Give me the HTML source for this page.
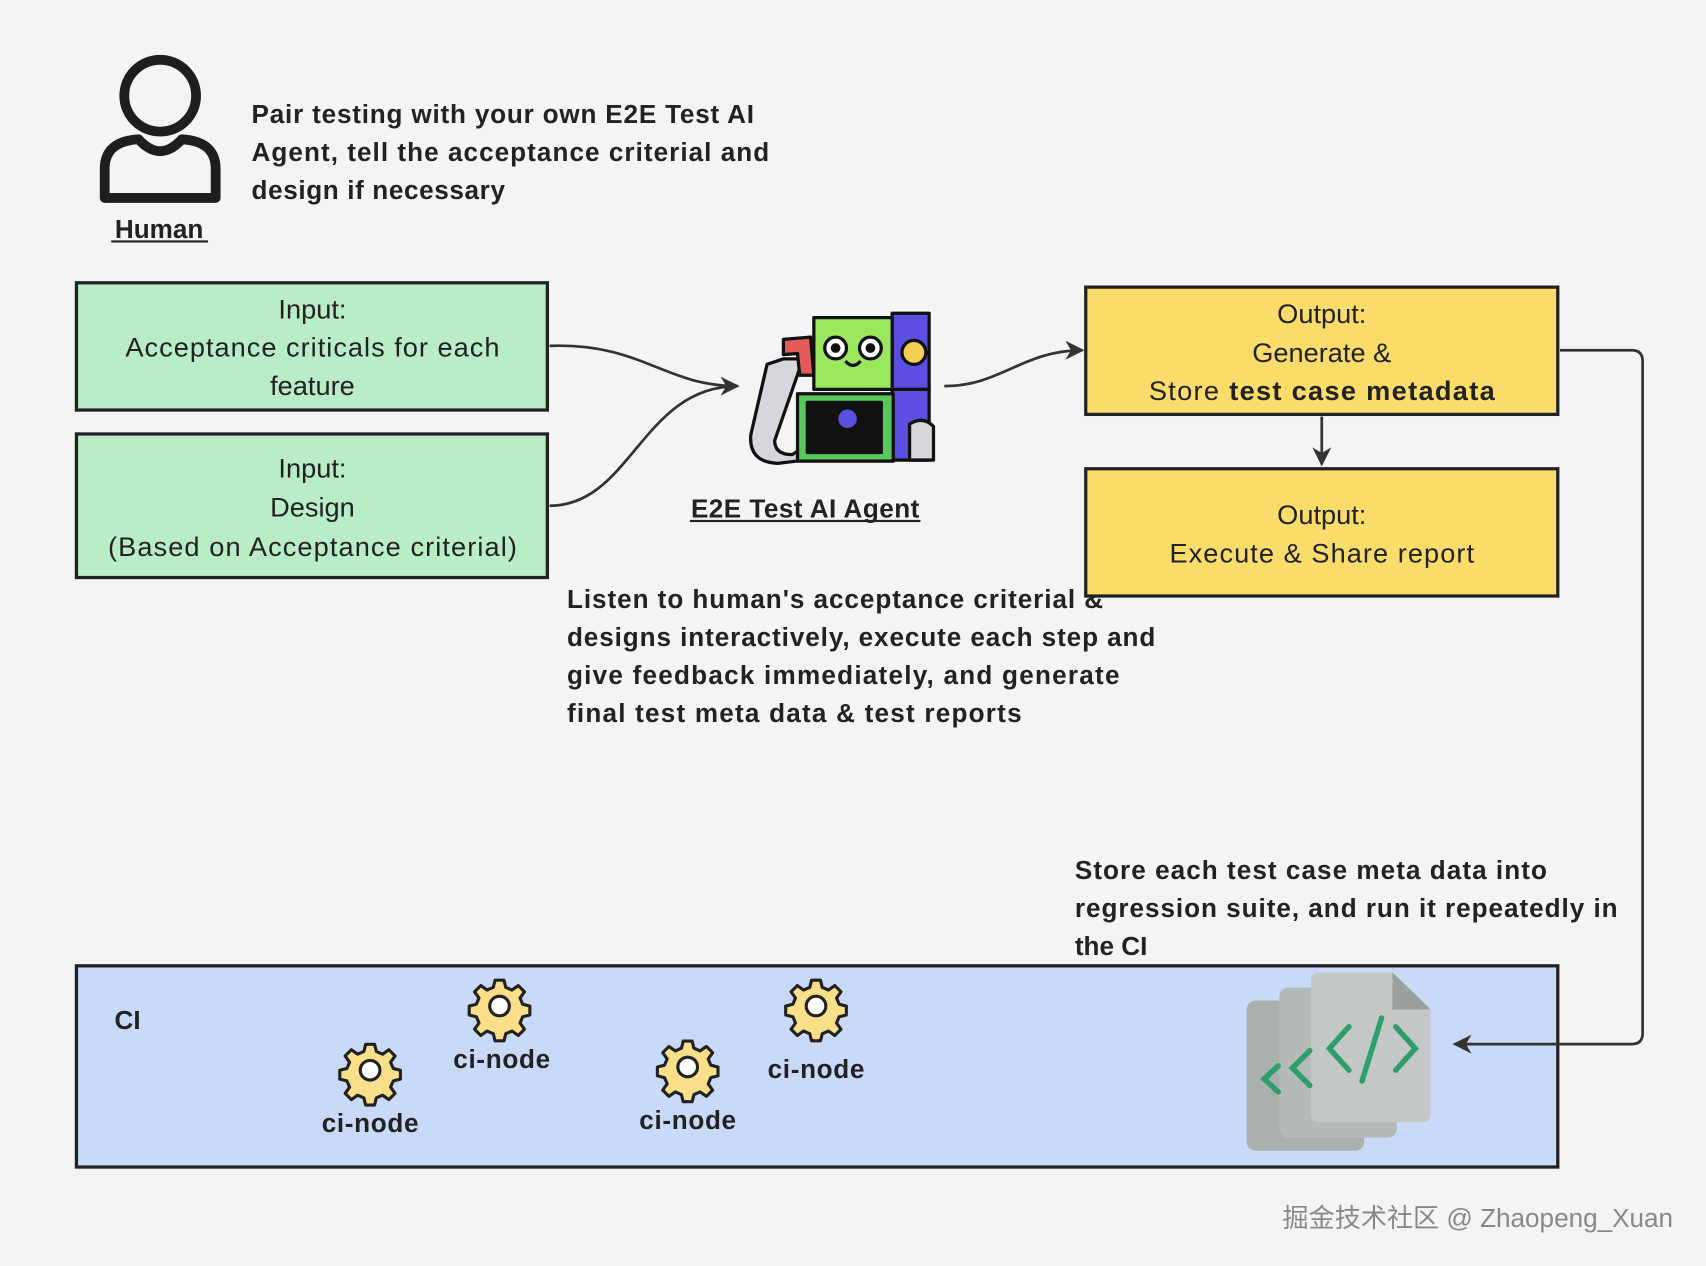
<!DOCTYPE html>
<html><head><meta charset="utf-8"><style>
html,body{margin:0;padding:0;background:#f4f4f4}
svg{display:block}
text{font-family:"Liberation Sans","Noto Sans CJK SC",sans-serif}
</style></head><body>
<svg width="1706" height="1266" viewBox="0 0 1568 1164" xmlns="http://www.w3.org/2000/svg">
<defs>
<marker id="ah" viewBox="0 0 10 10" refX="9" refY="5" markerWidth="7" markerHeight="7" orient="auto"><path d="M0,0 L10,5 L0,10 L3,5 z" fill="#333"/></marker>
<g id="gear"><g transform="scale(0.82)"><path d="M0,-29 l5,0 2,8 7,3 7,-5 7,7 -5,7 3,7 8,2 0,10 -8,2 -3,7 5,7 -7,7 -7,-5 -7,3 -2,8 -10,0 -2,-8 -7,-3 -7,5 -7,-7 5,-7 -3,-7 -8,-2 0,-10 8,-2 3,-7 -5,-7 7,-7 7,5 7,-3 2,-8z" fill="#f9df8a" stroke="#222" stroke-width="3.5" stroke-linejoin="round"/><circle r="11" fill="#fff" stroke="#222" stroke-width="3.5"/></g></g>
</defs>
<rect width="1568" height="1164" fill="#f4f4f4"/>
<!-- human icon -->
<circle cx="147" cy="88" r="33" fill="none" stroke="#1e1e1e" stroke-width="9"/>
<path d="M127,128 Q96,130 96,155 L96,182 L198,182 L198,155 Q198,130 167,128 Q147,150 127,128z" fill="none" stroke="#1e1e1e" stroke-width="9" stroke-linejoin="round"/>
<text x="146" y="219" font-size="24" font-weight="bold" fill="#222" text-anchor="middle">Human</text>
<rect x="102" y="221" width="89" height="2" fill="#222"/>
<g font-size="24" font-weight="bold" fill="#222">
<text x="231" y="113" textLength="462">Pair testing with your own E2E Test AI</text>
<text x="231" y="148" textLength="476">Agent, tell the acceptance criterial and</text>
<text x="231" y="183" textLength="233">design if necessary</text>
</g>
<!-- input boxes -->
<rect x="70" y="260" width="433" height="117" fill="#b9edc7" stroke="#222" stroke-width="3"/>
<g font-size="25" fill="#222" text-anchor="middle">
<text x="287" y="293">Input:</text><text x="287" y="328" textLength="344">Acceptance criticals for each</text><text x="287" y="363">feature</text>
</g>
<rect x="70" y="399" width="433" height="132" fill="#b9edc7" stroke="#222" stroke-width="3"/>
<g font-size="25" fill="#222" text-anchor="middle">
<text x="287" y="439">Input:</text><text x="287" y="475">Design</text><text x="287" y="511" textLength="376">(Based on Acceptance criterial)</text>
</g>
<path d="M505,318 C590,315 610,355 678,355" fill="none" stroke="#333" stroke-width="2.5" marker-end="url(#ah)"/>
<path d="M505,465 C580,465 590,355 678,355" fill="none" stroke="#333" stroke-width="2.5"/>
<!-- robot -->
<g stroke="#111" stroke-width="3" stroke-linejoin="round">
<path d="M720,330 L738,330 L712,405 Q712,418 728,418 L738,412 L740,423 L715,426 Q688,425 690,400 L705,335z" fill="#d6d6dc"/>
<path d="M720,312 L745,310 L748,345 L735,345 L733,325 L720,326z" fill="#e55a5a"/>
<rect x="820" y="288" width="34" height="70" fill="#5b4ee0"/>
<rect x="748" y="292" width="72" height="66" fill="#9be85e"/>
<circle cx="768" cy="320" r="10" fill="#fff"/><circle cx="800" cy="320" r="10" fill="#fff"/>
<circle cx="768" cy="320" r="3" fill="#111"/><circle cx="800" cy="320" r="3" fill="#111"/>
<path d="M777,332 Q784,340 791,332" fill="none"/>
<circle cx="840" cy="324" r="11" fill="#f4cf53"/>
<rect x="820" y="358" width="34" height="65" fill="#5b4ee0"/>
<rect x="733" y="362" width="88" height="62" fill="#59c85c"/>
<rect x="742" y="370" width="68" height="46" fill="#111"/>
<circle cx="779" cy="385" r="10" fill="#5b4ee0"/>
<path d="M836,423 L836,390 Q848,382 858,392 L858,423z" fill="#d6d6dc"/>
</g>
<text x="740" y="476" font-size="24" font-weight="bold" fill="#222" text-anchor="middle" textLength="210">E2E Test AI Agent</text>
<rect x="634" y="478" width="212" height="2" fill="#222"/>
<g font-size="24" font-weight="bold" fill="#222">
<text x="521" y="559" textLength="493">Listen to human's acceptance criterial &amp;</text>
<text x="521" y="594" textLength="541">designs interactively, execute each step and</text>
<text x="521" y="629" textLength="508">give feedback immediately, and generate</text>
<text x="521" y="664" textLength="418">final test meta data &amp; test reports</text>
</g>
<path d="M868,355 C920,355 940,322 995,322" fill="none" stroke="#333" stroke-width="2.5" marker-end="url(#ah)"/>
<!-- outputs -->
<rect x="998" y="264" width="434" height="117" fill="#fadc6a" stroke="#222" stroke-width="3"/>
<g font-size="25" fill="#222" text-anchor="middle">
<text x="1215" y="297">Output:</text><text x="1215" y="333">Generate &amp;</text>
<text x="1215" y="368" textLength="318">Store <tspan font-weight="bold">test case metadata</tspan></text>
</g>
<line x1="1215" y1="383" x2="1215" y2="427" stroke="#333" stroke-width="2.5" marker-end="url(#ah)"/>
<rect x="998" y="431" width="434" height="117" fill="#fadc6a" stroke="#222" stroke-width="3"/>
<g font-size="25" fill="#222" text-anchor="middle">
<text x="1215" y="482">Output:</text><text x="1215" y="517" textLength="280">Execute &amp; Share report</text>
</g>
<g font-size="24" font-weight="bold" fill="#222">
<text x="988" y="808" textLength="434">Store each test case meta data into</text>
<text x="988" y="843" textLength="499">regression suite, and run it repeatedly in</text>
<text x="988" y="878">the CI</text>
</g>
<!-- CI -->
<rect x="70" y="888" width="1362" height="185" fill="#c9daf8" stroke="#222" stroke-width="3"/>
<text x="105" y="946" font-size="24" font-weight="bold" fill="#222">CI</text>
<use href="#gear" x="340" y="984"/><text x="340" y="1041" font-size="24" font-weight="bold" fill="#222" text-anchor="middle" textLength="89">ci-node</text>
<use href="#gear" x="459" y="925"/><text x="461" y="982" font-size="24" font-weight="bold" fill="#222" text-anchor="middle" textLength="89">ci-node</text>
<use href="#gear" x="632" y="981"/><text x="632" y="1038" font-size="24" font-weight="bold" fill="#222" text-anchor="middle" textLength="89">ci-node</text>
<use href="#gear" x="750" y="925"/><text x="750" y="991" font-size="24" font-weight="bold" fill="#222" text-anchor="middle" textLength="89">ci-node</text>
<!-- code docs -->
<rect x="1146" y="920" width="108" height="138" rx="8" fill="#a9b0ae"/>
<rect x="1176" y="908" width="108" height="138" rx="8" fill="#b4bab8"/>
<path d="M1213,894 L1280,894 L1315,928 L1315,1024 Q1315,1032 1307,1032 L1213,1032 Q1205,1032 1205,1024 L1205,902 Q1205,894 1213,894z" fill="#c3c8c6"/>
<path d="M1280,894 L1280,928 L1315,928z" fill="#9aa09e"/>
<g fill="none" stroke="#2f9e6e" stroke-width="5" stroke-linecap="round">
<path d="M1175,980 L1162,992 L1175,1004"/><path d="M1204,966 L1188,982 L1204,998"/>
<path d="M1240,944 L1222,964 L1240,984"/><path d="M1270,936 L1252,994"/><path d="M1283,944 L1301,964 L1283,984"/>
</g>
<path d="M1434,322 L1500,322 Q1510,322 1510,332 L1510,950 Q1510,960 1500,960 L1337,960" fill="none" stroke="#333" stroke-width="2.5" marker-end="url(#ah)"/>
<text x="1538" y="1128" font-size="24" fill="#888" text-anchor="end">掘金技术社区 @ Zhaopeng_Xuan</text>
</svg>
</body></html>
